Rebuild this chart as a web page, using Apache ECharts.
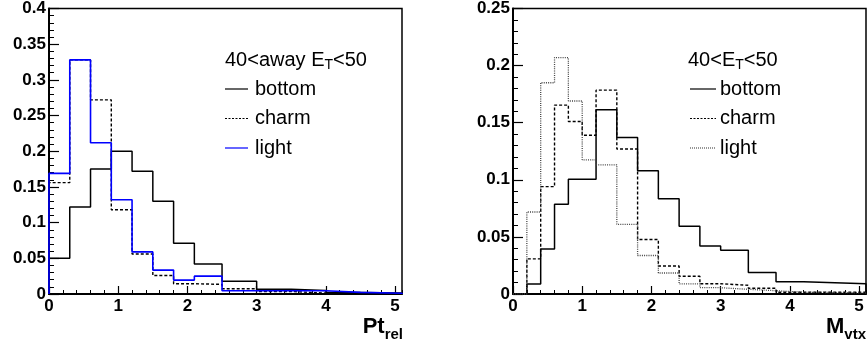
<!DOCTYPE html>
<html><head><meta charset="utf-8">
<script src="https://cdn.jsdelivr.net/npm/echarts@6/dist/echarts.min.js"></script>
<style>html,body{margin:0;padding:0;background:#fff}#c{width:867px;height:350px}</style>
</head><body><div id="c"></div>
<script>
// ---- Left panel: Pt_rel ----
const ptEdges   = [0, 0.3, 0.6, 0.9, 1.2, 1.5, 1.8, 2.1, 2.5, 3.0, 3.5, 4.0, 4.5, 5.1];
const ptBottom  = [0.050, 0.122, 0.175, 0.200, 0.172, 0.130, 0.071, 0.042, 0.018, 0.0065, 0.005, 0.002, 0.0015];
const ptCharm   = [0.156, 0.328, 0.272, 0.118, 0.056, 0.026, 0.0144, 0.0135, 0.0074, 0.0035, 0.0012, 0.0008, 0.0003];
const ptLight   = [0.169, 0.328, 0.212, 0.132, 0.059, 0.0335, 0.0195, 0.025, 0.0046, 0.0046, 0.0046, 0.0023, 0.001];
// ---- Right panel: M_vtx ----
const mEdges    = [0, 0.2, 0.4, 0.6, 0.8, 1.0, 1.2, 1.5, 1.8, 2.1, 2.4, 2.7, 3.0, 3.4, 3.8, 4.2, 5.1];
const mBottom   = [0, 0.0087, 0.0395, 0.0785, 0.1005, 0.1005, 0.1613, 0.137, 0.108, 0.0834, 0.0593, 0.0421, 0.0384, 0.0189, 0.0107, 0.009];
const mCharm    = [0, 0.0308, 0.094, 0.1654, 0.151, 0.139, 0.1785, 0.127, 0.0477, 0.0245, 0.0155, 0.009, 0.0076, 0.005, 0.0015, 0.0015];
const mLight    = [0, 0.0718, 0.185, 0.207, 0.169, 0.1175, 0.113, 0.061, 0.0337, 0.0184, 0.0088, 0.0055, 0.0041, 0.0029, 0.0015, 0.001];
// axis ranges / ticks
const xRange = [0, 5.1];
const yRangeLeft = [0, 0.4];
const yRangeRight = [0, 0.25];
const seriesNames = ['bottom', 'charm', 'light'];
const leftTitle = ['40<away E', 'T', '<50'];
const rightTitle = ['40<E', 'T', '<50'];

function steps(edges, vals) {
  const pts = [[edges[0], 0]];
  for (let i = 0; i < vals.length; i++) {
    pts.push([edges[i], vals[i]]);
    pts.push([edges[i + 1], vals[i]]);
  }
  pts.push([edges[edges.length - 1], 0]);
  return pts;
}

const ctx = document.createElement('canvas').getContext('2d');
function tw(font, s) { ctx.font = font; return ctx.measureText(s).width; }

const F = '"Liberation Sans", Arial, sans-serif';

function mainX(gi) {
  return {
    type: 'value', gridIndex: gi, min: xRange[0], max: xRange[1], interval: 1, position: 'bottom',
    axisLine: { show: true, onZero: false, lineStyle: { color: '#000', width: 2 } },
    axisTick: { show: true, inside: true, length: 8, lineStyle: { color: '#000', width: 1.2 } },
    axisLabel: { show: true, margin: 4, color: '#000', fontFamily: F, fontWeight: 'bold', fontSize: 17,
      showMaxLabel: false, formatter: v => (Math.abs(v - Math.round(v)) < 1e-6 ? String(Math.round(v)) : '') },
    splitLine: { show: false }
  };
}
function minorX(gi) {
  return {
    type: 'value', gridIndex: gi, min: xRange[0], max: xRange[1], interval: 0.2, position: 'bottom', offset: 0,
    axisLine: { show: false },
    axisTick: { show: true, inside: true, length: 4, lineStyle: { color: '#000', width: 1 } },
    axisLabel: { show: false }, splitLine: { show: false }
  };
}
function yAx(gi, rng) {
  return {
    type: 'value', gridIndex: gi, min: rng[0], max: rng[1], interval: 0.05,
    axisLine: { show: true, onZero: false, lineStyle: { color: '#000', width: 2 } },
    axisTick: { show: true, inside: true, length: 10, lineStyle: { color: '#000', width: 1.2 } },
    minorTick: { show: true, splitNumber: 5, length: 5, lineStyle: { color: '#000', width: 1 } },
    axisLabel: { show: true, margin: 3, color: '#000', fontFamily: F, fontWeight: 'bold', fontSize: 17 },
    splitLine: { show: false }
  };
}

const solid = { color: '#000', width: 1.5, type: 'solid' };
const dashed = { color: '#000', width: 1.4, type: [3, 2] };
const blue = { color: '#0000ff', width: 1.6, type: 'solid' };
const dotted = { color: '#444', width: 1.3, type: [1, 1.2] };

function ser(name, data, xi, yi, ls) {
  return { name, type: 'line', xAxisIndex: xi, yAxisIndex: yi, data, symbol: 'none', showSymbol: false,
    lineStyle: ls, itemStyle: { color: ls.color }, animation: false, silent: true, z: 3 };
}

const series = [
  ser(seriesNames[0], steps(ptEdges, ptBottom), 0, 0, solid),
  ser(seriesNames[1], steps(ptEdges, ptCharm), 0, 0, dashed),
  ser(seriesNames[2], steps(ptEdges, ptLight), 0, 0, blue),
  ser(seriesNames[0], steps(mEdges, mBottom), 2, 1, solid),
  ser(seriesNames[1], steps(mEdges, mCharm), 2, 1, dashed),
  ser(seriesNames[2], steps(mEdges, mLight), 2, 1, dotted)
];

// legend / titles as graphics
const LF = '20px "Liberation Sans", Arial, sans-serif';
const SF = '14px "Liberation Sans", Arial, sans-serif';
function txt(s, x, y, font, align) {
  return { type: 'text', x, y, z: 10, style: { text: s, font, fill: '#000', align: align || 'left', verticalAlign: 'middle' } };
}
function titleWithSub(parts, x, y) {
  const w0 = tw(LF, parts[0]);
  const w1 = tw(SF, parts[1]);
  return [txt(parts[0], x, y, LF), txt(parts[1], x + w0, y + 5, SF), txt(parts[2], x + w0 + w1, y, LF)];
}
function legendBlock(x, lineLen, textX, y0, dy, styles) {
  const out = [];
  seriesNames.forEach((n, i) => {
    const y = y0 + i * dy;
    const st = styles[i];
    out.push({ type: 'line', z: 10, shape: { x1: x, y1: y, x2: x + lineLen, y2: y },
      style: { stroke: st.color, lineWidth: st.width, lineDash: Array.isArray(st.type) ? st.type : null } });
    out.push(txt(n, textX, y, LF));
  });
  return out;
}
const AF = 'bold 22px "Liberation Sans", Arial, sans-serif';
const ASF = 'bold 15px "Liberation Sans", Arial, sans-serif';
function axisTitle(main, sub, right, y) {
  const ws = tw(ASF, sub);
  return [txt(sub, right, y + 8, ASF, 'right'), txt(main, right - ws, y, AF, 'right')];
}

const legSolid = { color: '#000', width: 1.2, type: 'solid' };
const legDash = { color: '#000', width: 1.1, type: [2, 1.5] };
const graphic = [].concat(
  titleWithSub(leftTitle, 225, 60),
  legendBlock(225, 23, 255, 89, 29.5, [legSolid, legDash, { color: '#0000ff', width: 1.2, type: 'solid' }]),
  titleWithSub(rightTitle, 688, 60),
  legendBlock(690, 26, 720, 89, 29.5, [legSolid, legDash, { color: '#444', width: 1.1, type: [1, 1] }]),
  axisTitle('Pt', 'rel', 403, 327),
  axisTitle('M', 'vtx', 866, 327)
);

const chart = echarts.init(document.getElementById('c'), null, { renderer: 'canvas' });
chart.setOption({
  backgroundColor: '#fff',
  animation: false,
  grid: [
    { left: 49, top: 7, width: 353, height: 287, show: true, borderColor: '#000', borderWidth: 1.5, containLabel: false },
    { left: 513, top: 7, width: 353, height: 287, show: true, borderColor: '#000', borderWidth: 1.5, containLabel: false }
  ],
  xAxis: [mainX(0), minorX(0), mainX(1), minorX(1)],
  yAxis: [yAx(0, yRangeLeft), yAx(1, yRangeRight)],
  series,
  graphic
});
</script></body></html>
